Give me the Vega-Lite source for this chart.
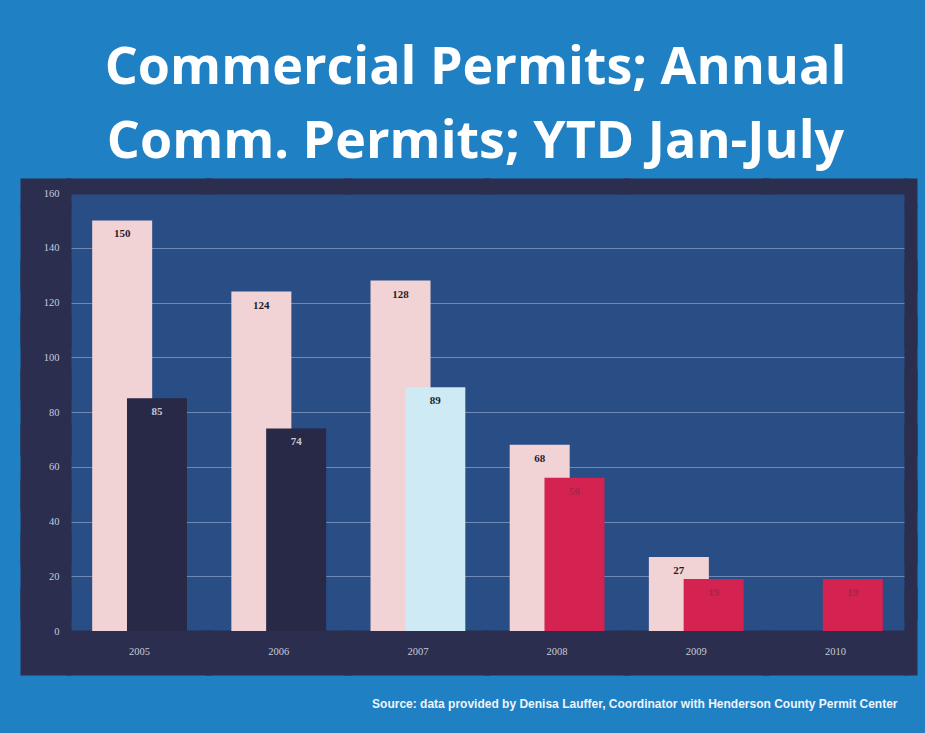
{
  "$schema": "https://vega.github.io/schema/vega-lite/v6.json",
  "width": 835,
  "height": 438,
  "autosize": {"type": "none"},
  "padding": {"left": 70, "top": 193, "right": 20, "bottom": 102},
  "background": "#2080c4",
  "title": {
    "text": ["Commercial Permits; Annual", "Comm. Permits; YTD Jan-July"],
    "font": "Open Sans",
    "fontWeight": 700,
    "fontSize": 52,
    "color": "#ffffff",
    "lineHeight": 74,
    "anchor": "middle",
    "dx": -12,
    "offset": -64
  },
  "data": {
    "values": [
      {"year": "2005", "series": "Annual", "permits": 150},
      {"year": "2006", "series": "Annual", "permits": 124},
      {"year": "2007", "series": "Annual", "permits": 128},
      {"year": "2008", "series": "Annual", "permits": 68},
      {"year": "2009", "series": "Annual", "permits": 27},
      {"year": "2005", "series": "YTD", "permits": 85},
      {"year": "2006", "series": "YTD", "permits": 74},
      {"year": "2007", "series": "YTD", "permits": 89},
      {"year": "2008", "series": "YTD", "permits": 56},
      {"year": "2009", "series": "YTD", "permits": 19},
      {"year": "2010", "series": "YTD", "permits": 19}
    ]
  },
  "layer": [
    {
      "mark": {"type": "bar", "width": 60},
      "encoding": {
        "x": {
          "field": "year", "type": "ordinal",
          "scale": {"paddingInner": 0, "paddingOuter": 0},
          "axis": {
            "orient": "bottom", "domain": false, "grid": false,
            "tickSize": 45, "tickWidth": 146, "tickColor": "#2b2e4e", "tickOpacity": 1, "offset": -1,
            "labelAngle": 0, "labelPadding": -29,
            "labelFont": "Liberation Serif", "labelFontSize": 10.5, "labelColor": "#c9ccd9",
            "title": "Source: data provided by Denisa Lauffer, Coordinator with Henderson County Permit Center",
            "titleFont": "Liberation Sans", "titleFontWeight": "bold", "titleFontSize": 12,
            "titleColor": "#eef4fb", "titleAlign": "right", "titleAnchor": "end",
            "titleBaseline": "alphabetic", "titleX": 827, "titleY": 77
          }
        },
        "xOffset": {
          "field": "series", "type": "nominal", "sort": ["Annual", "YTD"],
          "scale": {"paddingInner": 0, "paddingOuter": 1.109}
        },
        "y": {
          "field": "permits", "type": "quantitative", "stack": null,
          "scale": {"domain": [0, 160], "nice": false},
          "axis": {
            "orient": "left", "values": [0, 20, 40, 60, 80, 100, 120, 140, 160],
            "domain": false, "tickSize": 51, "tickColor": "#2b2e4e", "tickOpacity": 1, "offset": -1,
            "tickWidth": {"condition": [{"test": "datum.value === 0", "value": 88}, {"test": "datum.value === 160", "value": 30}], "value": 86},
            "labelPadding": -39, "labelFont": "Liberation Serif", "labelFontSize": 10.5, "labelColor": "#c9ccd9",
            "grid": true, "gridColor": "#b4c6e6", "gridOpacity": 0.5, "gridWidth": 1,
            "title": null
          }
        },
        "color": {
          "condition": [
            {"test": "datum.series === 'Annual'", "value": "#f2d3d5"},
            {"test": "datum.year === '2007'", "value": "#cdeaf5"},
            {"test": "datum.year >= '2008'", "value": "#d42251"}
          ],
          "value": "#272946"
        }
      }
    },
    {
      "mark": {"type": "text", "baseline": "middle", "dy": 14, "font": "Liberation Serif", "fontWeight": "bold", "fontSize": 11},
      "encoding": {
        "x": {
          "field": "year", "type": "ordinal",
          "axis": {"orient": "top", "domain": false, "labels": false, "grid": false, "tickSize": 16, "tickWidth": 146, "tickColor": "#2b2e4e", "tickOpacity": 1, "offset": -1, "title": null}
        },
        "xOffset": {"field": "series", "type": "nominal", "sort": ["Annual", "YTD"]},
        "y": {
          "field": "permits", "type": "quantitative", "stack": null,
          "axis": {
            "orient": "right", "values": [0, 20, 40, 60, 80, 100, 120, 140, 160],
            "domain": false, "labels": false, "grid": false, "tickSize": 13, "tickColor": "#2b2e4e", "tickOpacity": 1, "offset": -1,
            "tickWidth": {"condition": [{"test": "datum.value === 0", "value": 88}, {"test": "datum.value === 160", "value": 30}], "value": 86},
            "title": null
          }
        },
        "text": {"field": "permits", "type": "quantitative"},
        "color": {
          "condition": [
            {"test": "datum.series === 'Annual'", "value": "#1d1d2c"},
            {"test": "datum.year === '2007'", "value": "#1d1d2c"},
            {"test": "datum.year >= '2008'", "value": "#a8244c"}
          ],
          "value": "#c6c8d6"
        }
      }
    }
  ],
  "resolve": {"axis": {"x": "independent", "y": "independent"}},
  "config": {
    "view": {"fill": "#294d85", "stroke": null}
  }
}
